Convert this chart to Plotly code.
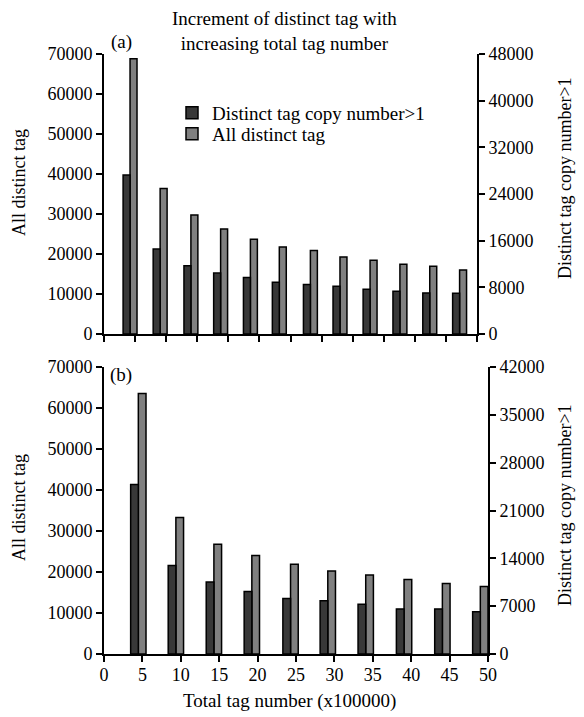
import plotly.graph_objects as go

# ---- data ----
# Panel (a): bar-pair positions on the x axis (x100000), 12 samples
top_x = [4.19, 9.03, 13.98, 18.76, 23.55, 28.2, 33.2, 37.96, 42.8, 47.6, 52.4, 57.2]
top_all_distinct = [68810, 36360, 29770, 26270, 23690, 21770, 20850, 19270, 18430, 17430, 16930, 16010]
top_copy_gt1 = [27240, 14560, 11700, 10440, 9690, 8890, 8490, 8200, 7680, 7340, 7050, 7000]

# Panel (b): 10 samples
bot_x = [4.47, 9.36, 14.31, 19.25, 24.29, 29.14, 34.08, 39.07, 44.06, 49.0]
bot_all_distinct = [63510, 33310, 26780, 24000, 21880, 20240, 19270, 18200, 17220, 16490]
bot_copy_gt1 = [24815, 12950, 10540, 9160, 8120, 7780, 7290, 6600, 6600, 6200]

x_ticks_bottom = [0, 5, 10, 15, 20, 25, 30, 35, 40, 45, 50]

name_dark = "Distinct tag copy number>1"
name_grey = "All distinct tag"

FONT = "Liberation Serif, Times New Roman, serif"
DARK = "#383838"
GREY = "#808080"

fig = go.Figure()

w_top = 1.12
w_bot = 1.0

fig.add_trace(go.Bar(x=top_x, y=top_copy_gt1, name=name_dark, xaxis="x", yaxis="y2",
                     width=w_top, offset=-w_top, marker=dict(color=DARK, line=dict(color="black", width=1.5)),
                     legend="legend"))
fig.add_trace(go.Bar(x=top_x, y=top_all_distinct, name=name_grey, xaxis="x", yaxis="y",
                     width=w_top, offset=0, marker=dict(color=GREY, line=dict(color="black", width=1.5)),
                     legend="legend2"))
fig.add_trace(go.Bar(x=bot_x, y=bot_copy_gt1, name=name_dark, xaxis="x2", yaxis="y4", showlegend=False,
                     width=w_bot, offset=-w_bot, marker=dict(color=DARK, line=dict(color="black", width=1.5))))
fig.add_trace(go.Bar(x=bot_x, y=bot_all_distinct, name=name_grey, xaxis="x2", yaxis="y3", showlegend=False,
                     width=w_bot, offset=0, marker=dict(color=GREY, line=dict(color="black", width=1.5))))

common = dict(showline=True, linecolor="black", linewidth=2, ticks="outside", ticklen=6,
              tickwidth=2, tickcolor="black", showgrid=False, zeroline=False,
              tickfont=dict(family=FONT, size=18, color="black"))

PLOT_TOP, PLOT_BOT, PLOT_L, PLOT_R = 54, 654, 104, 488
H = PLOT_BOT - PLOT_TOP
W = PLOT_R - PLOT_L

def py(p):
    return (PLOT_BOT - p) / H

def px(p):
    return (p - PLOT_L) / W

legend_common = dict(xanchor="left", yanchor="middle", bgcolor="rgba(0,0,0,0)",
                     font=dict(family=FONT, size=19, color="black"))

fig.update_layout(
    width=584, height=717,
    margin=dict(l=PLOT_L, r=584 - PLOT_R, t=PLOT_TOP, b=717 - PLOT_BOT),
    paper_bgcolor="white", plot_bgcolor="white",
    barmode="overlay",
    font=dict(family=FONT, color="black", size=18),
    xaxis=dict(domain=[0, px(477)], anchor="y", range=[0, 60], tick0=0, dtick=5,
               showticklabels=False, **common),
    yaxis=dict(domain=[py(334), 1], anchor="x", range=[0, 70000], tick0=0, dtick=10000,
               tickformat="d", **common),
    yaxis2=dict(overlaying="y", side="right", anchor="x", range=[0, 48000], tick0=0, dtick=8000,
                tickformat="d", **common),
    xaxis2=dict(domain=[0, 1], anchor="y3", range=[0, 50], tickmode="array", tickvals=x_ticks_bottom,
                ticktext=[str(v) for v in x_ticks_bottom], ticklabelstandoff=-3, **common),
    yaxis3=dict(domain=[0, py(367)], anchor="x2", range=[0, 70000], tick0=0, dtick=10000,
                tickformat="d", **common),
    yaxis4=dict(overlaying="y3", side="right", anchor="x2", range=[0, 42000], tick0=0, dtick=7000,
                tickformat="d", **common),
    legend=dict(x=px(172), y=py(113), **legend_common),
    legend2=dict(x=px(172), y=py(134), **legend_common),
    showlegend=True,
)

ann = [
    dict(text="Increment of distinct tag with<br>increasing total tag number", x=px(284), y=py(31),
         font=dict(size=19)),
    dict(text="(a)", x=px(121), y=py(42), font=dict(size=19)),
    dict(text="(b)", x=px(121), y=py(375), font=dict(size=19)),
    dict(text="All distinct tag", x=px(19), y=py(183), textangle=-90, font=dict(size=18)),
    dict(text="All distinct tag", x=px(19), y=py(508), textangle=-90, font=dict(size=18)),
    dict(text="Distinct tag copy number>1", x=px(565), y=py(178), textangle=-90, font=dict(size=18)),
    dict(text="Distinct tag copy number>1", x=px(565), y=py(505), textangle=-90, font=dict(size=18)),
    dict(text="Total tag number (x100000)", x=px(289), y=py(701), font=dict(size=19)),
]
for a in ann:
    a.update(xref="paper", yref="paper", showarrow=False, xanchor="center", yanchor="middle")
    a["font"].update(family=FONT, color="black")
fig.update_layout(annotations=ann)

fig.write_html("out.html")
